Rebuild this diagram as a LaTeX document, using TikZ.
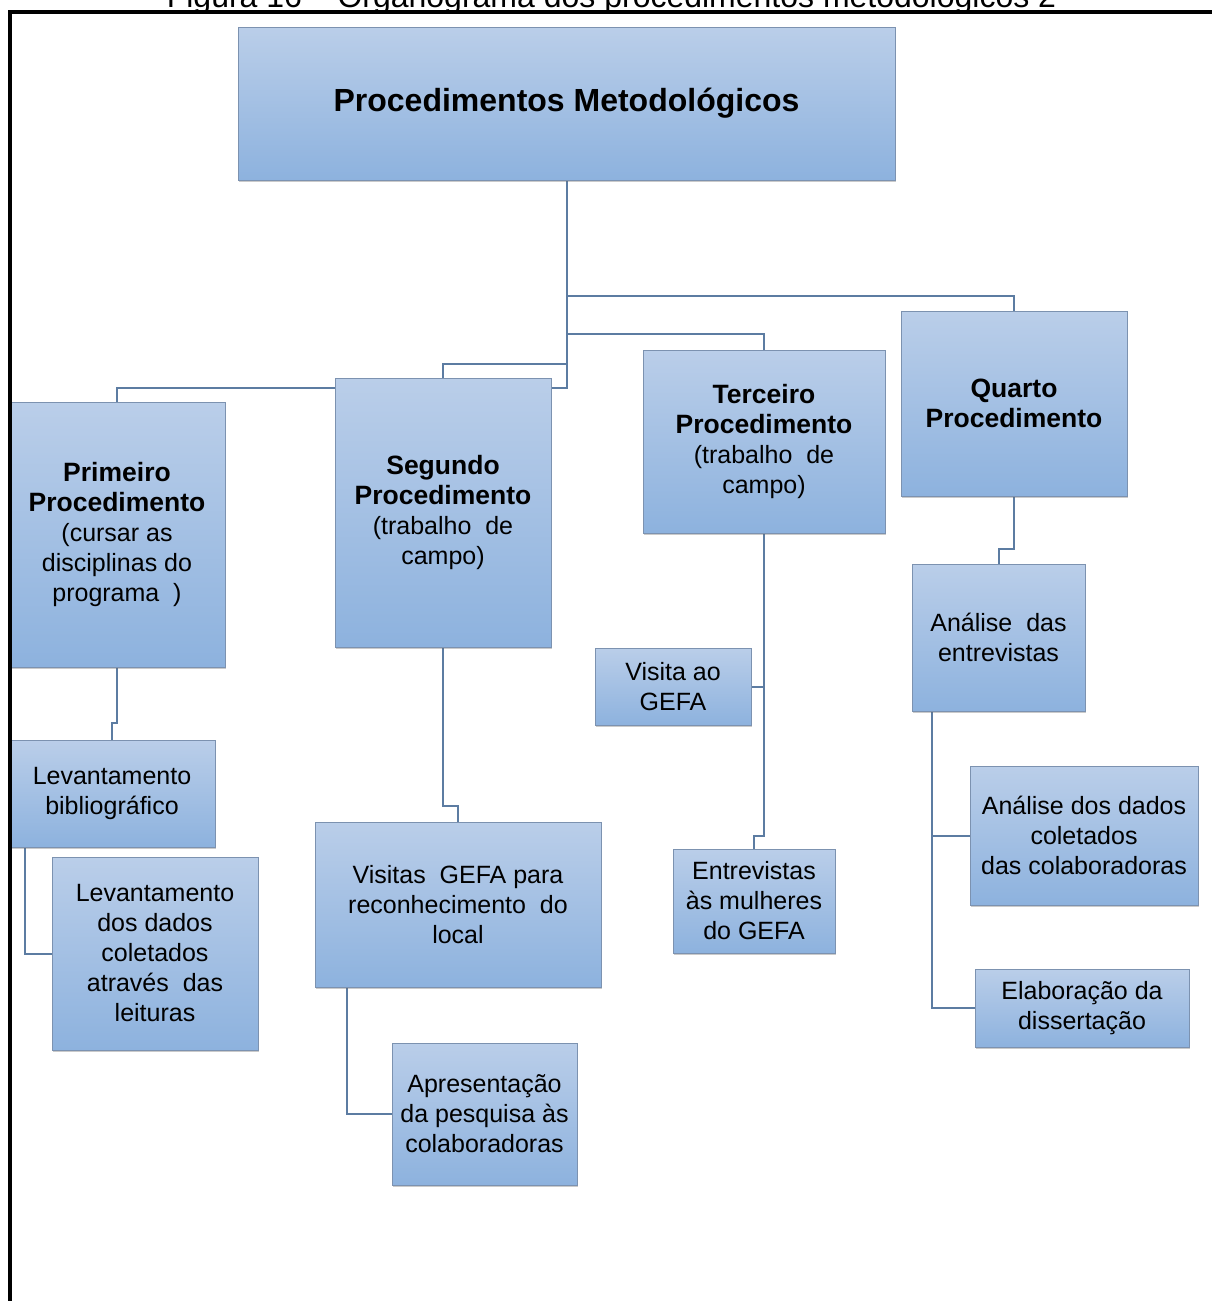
\documentclass[tikz,border=0pt]{standalone}
\usepackage{fontspec}
\setmainfont{Liberation Sans}
\usetikzlibrary{shadows,backgrounds}

\definecolor{caixatopo}{RGB}{186,206,233}
\definecolor{caixabase}{RGB}{141,178,222}
\definecolor{caixaborda}{RGB}{124,146,176}
\definecolor{ligacao}{RGB}{92,124,162}

\tikzset{
  caixa/.style={draw=caixaborda, line width=1pt, top color=caixatopo, bottom color=caixabase,
    align=center, inner sep=0pt, font=\fontsize{25}{30}\selectfont,
    drop shadow={shadow xshift=1pt, shadow yshift=-2pt, opacity=0.35, fill=black!60}},
  ligar/.style={draw=ligacao, line width=2pt},
}
\newcommand{\negrito}[1]{{\bfseries\fontsize{26.5}{30}\selectfont #1}}

\begin{document}
\begin{tikzpicture}[x=1pt,y=-1pt]
  \clip (0,0) rectangle (1212,1301);

  % Legenda (cortada no topo)
  \node[anchor=base, font=\fontsize{32}{36}\selectfont] (legenda) at (611.5,7.5)
    {Figura 16 – Organograma dos procedimentos metodológicos 2};

  % Caixa principal
  \node[caixa, minimum width=657, minimum height=153, font=\bfseries\fontsize{32}{36}\selectfont]
    (raiz) at (566.5,103.5) {Procedimentos Metodológicos};

  % Procedimentos
  \node[caixa, minimum width=216, minimum height=265] (primeiro) at (117,534.5)
    {\negrito{Primeiro}\\\negrito{Procedimento}\\(cursar as\\disciplinas do\\programa\ \ )};
  \node[caixa, minimum width=216, minimum height=269] (segundo) at (443,512.5)
    {\negrito{Segundo}\\\negrito{Procedimento}\\(trabalho\ \ de\\campo)};
  \node[caixa, minimum width=242, minimum height=183] (terceiro) at (764,441.5)
    {\negrito{Terceiro}\\\negrito{Procedimento}\\(trabalho\ \ de\\campo)};
  \node[caixa, minimum width=226, minimum height=185] (quarto) at (1014,403.5)
    {\negrito{Quarto}\\\negrito{Procedimento}};

  % Etapas
  \node[caixa, minimum width=206, minimum height=107] (levbib) at (112,793.5)
    {Levantamento\\bibliográfico};
  \node[caixa, minimum width=206, minimum height=193] (levdados) at (155,953.5)
    {Levantamento\\dos dados\\coletados\\através\ \ das\\leituras};
  \node[caixa, minimum width=286, minimum height=165] (visitas) at (458,904.5)
    {Visitas\ \ GEFA para\\reconhecimento\ \ do\\local};
  \node[caixa, minimum width=185, minimum height=142] (apresent) at (484.5,1114)
    {Apresentação\\da pesquisa às\\colaboradoras};
  \node[caixa, minimum width=156, minimum height=77] (visita) at (673,686.5)
    {Visita ao\\GEFA};
  \node[caixa, minimum width=162, minimum height=104] (entrev) at (754,901)
    {Entrevistas\\às mulheres\\do GEFA};
  \node[caixa, minimum width=173, minimum height=147] (analent) at (998.5,637.5)
    {Análise\ \ das\\entrevistas};
  \node[caixa, minimum width=228, minimum height=139] (analdados) at (1084,835.5)
    {Análise dos dados\\coletados\\das colaboradoras};
  \node[caixa, minimum width=214, minimum height=78] (elab) at (1082,1008)
    {Elaboração da\\dissertação};

  % Ligacoes
  \begin{pgfonlayer}{background}
    \foreach \alvo/\dy in {quarto/15, terceiro/16, segundo/14, primeiro/14}
      \draw[ligar] (raiz.south) |- ([yshift=\dy]\alvo.north) -- (\alvo.north);

    \draw[ligar] (primeiro.south) -- ++(0,55) -| (levbib.north);
    \draw[ligar] ([xshift=16]levbib.south west) |- (levdados.west);

    \draw[ligar] (segundo.south) -- ++(0,158) -| (visitas.north);
    \draw[ligar] ([xshift=32]visitas.south west) |- (apresent.west);

    \draw[ligar] (terceiro.south) -- ++(0,302) -| (entrev.north);
    \draw[ligar] (visita.east) -- (visita.east -| terceiro.south);

    \draw[ligar] (quarto.south) -- ++(0,52) -| (analent.north);
    \draw[ligar] ([xshift=20]analent.south west) |- (analdados.west);
    \draw[ligar] ([xshift=20]analent.south west) |- (elab.west);
  \end{pgfonlayer}

  % Moldura
  \draw[line width=4pt] (10,1310) -- (10,12) -- (1220,12);
\end{tikzpicture}
\end{document}
